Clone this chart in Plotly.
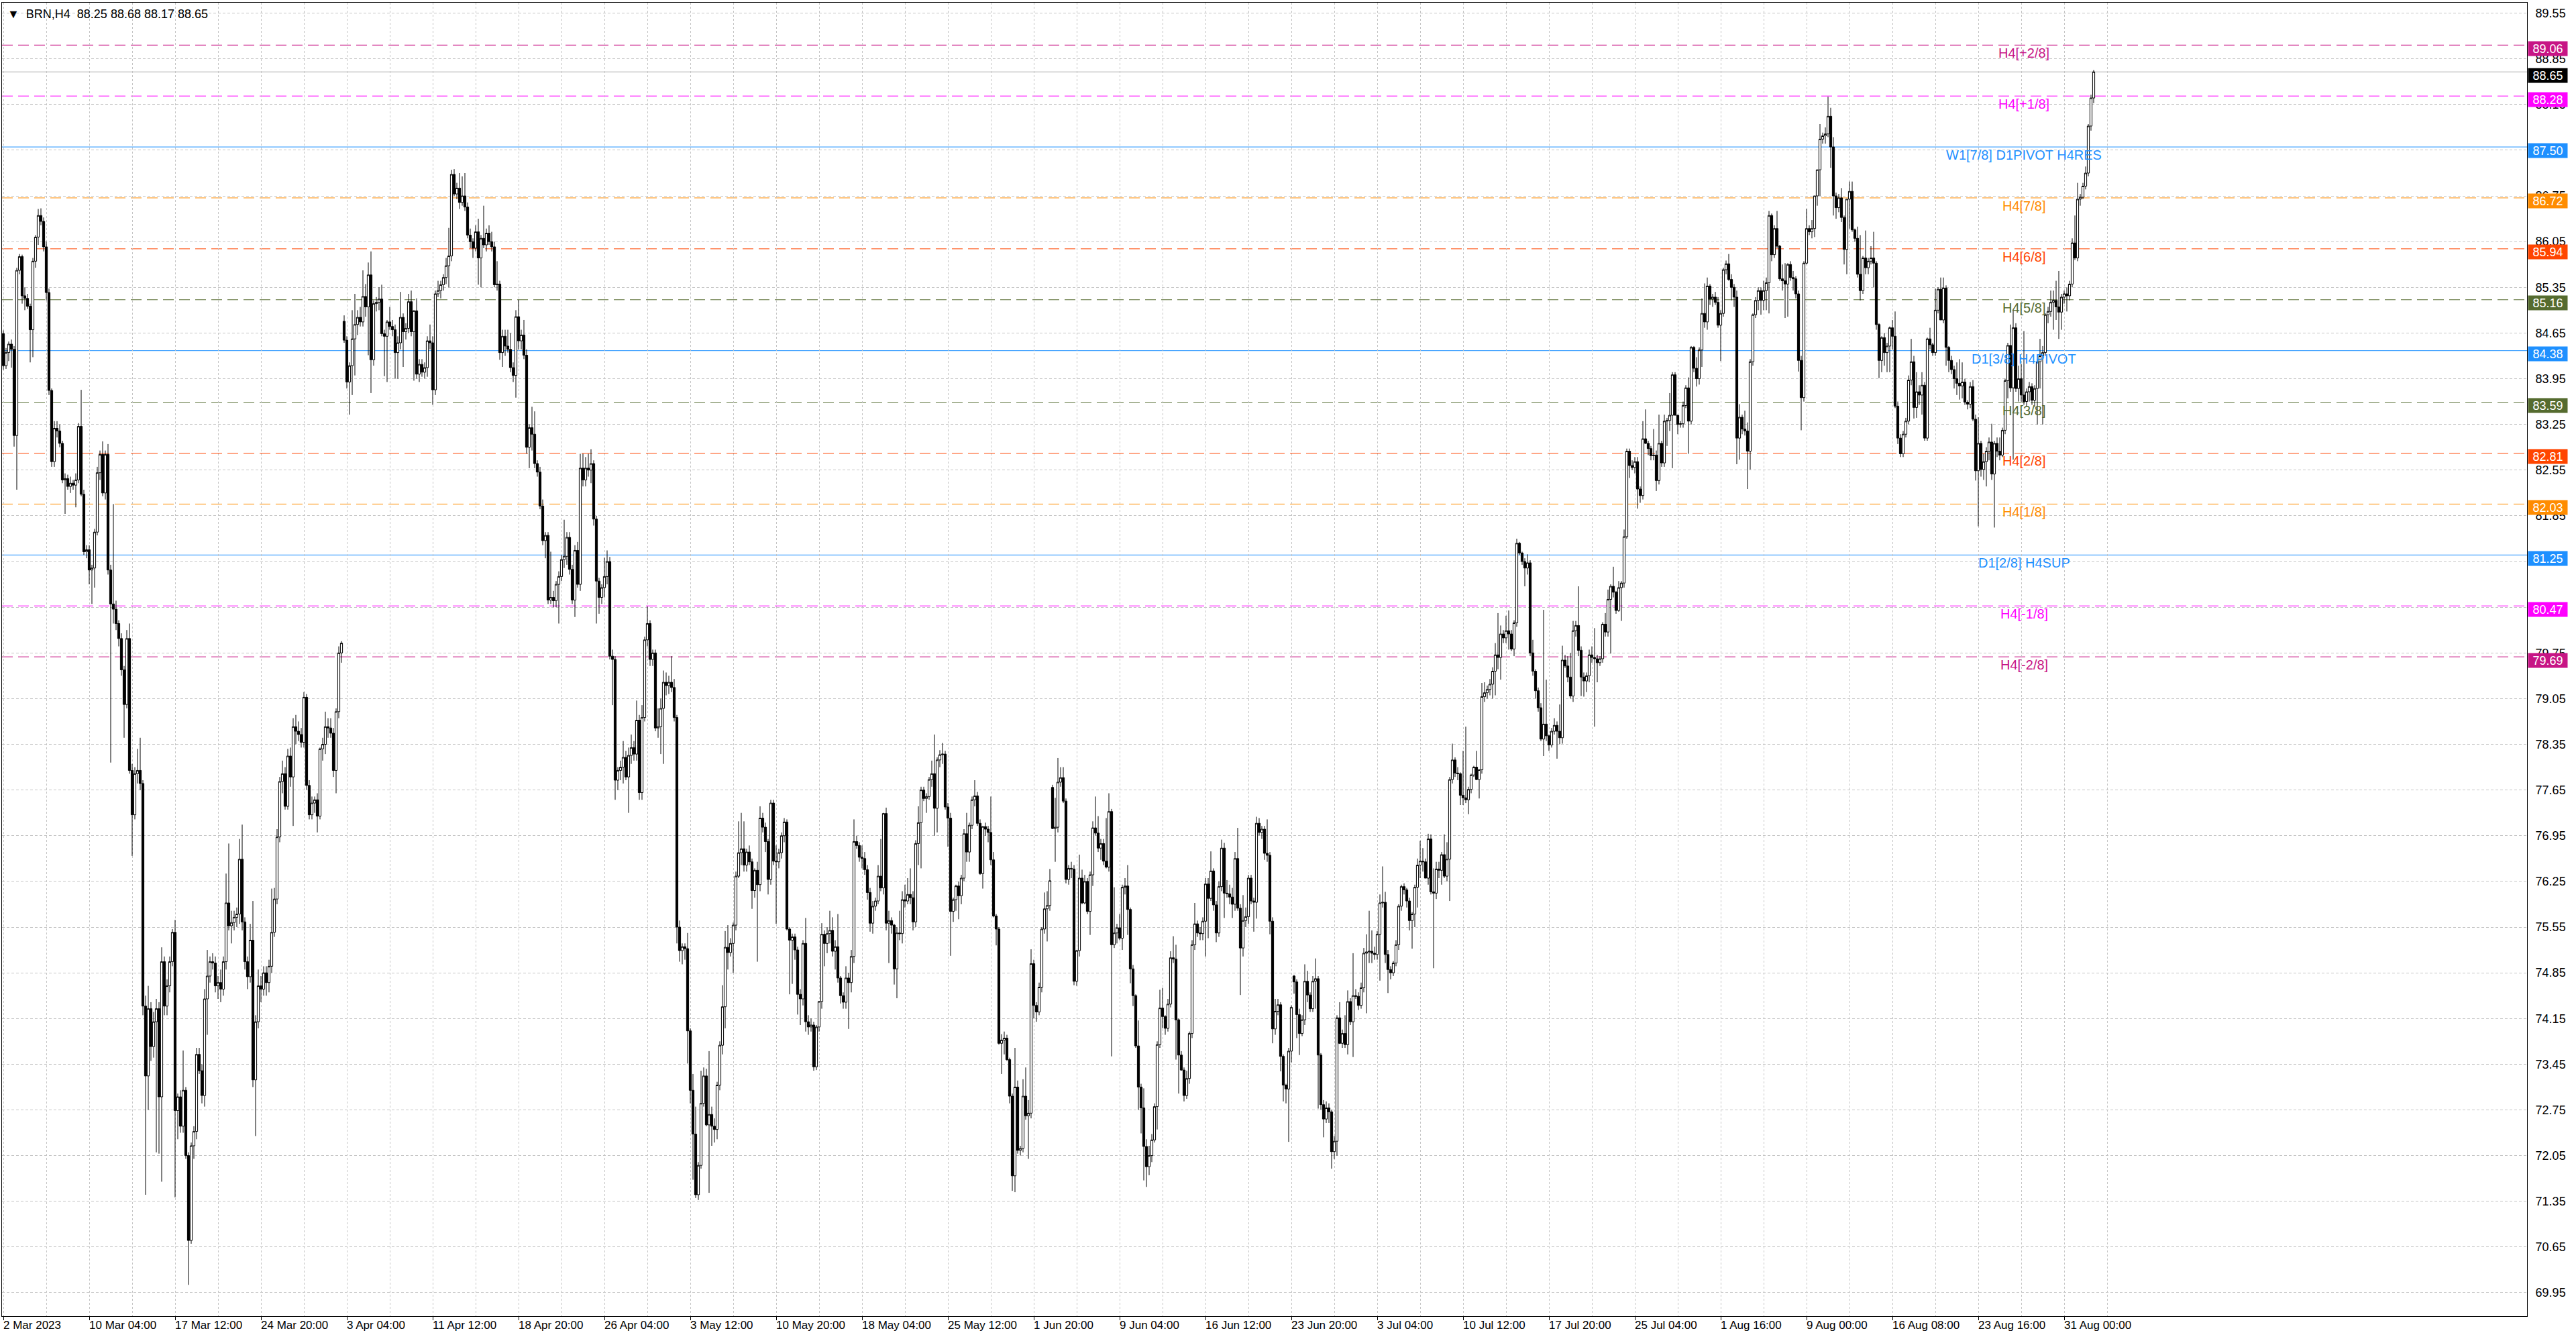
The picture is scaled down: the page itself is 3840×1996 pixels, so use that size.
import plotly.graph_objects as go

# BRN H4 bars, 2 Mar 2023 -> 1 Sep 2023
opens = [
    84.64, 84.15, 84.35, 84.48, 84.40, 83.08, 85.61, 85.82, 85.22, 85.18,
    85.06, 84.70, 85.75, 86.12, 86.45, 86.36, 85.97, 85.27, 83.77, 82.68,
    83.19, 83.15, 82.96, 82.40, 82.42, 82.30, 82.35, 82.32, 82.40, 83.22,
    82.18, 81.30, 81.33, 81.02, 81.05, 81.60, 82.51, 82.79, 82.20, 82.79,
    81.02, 80.50, 80.42, 80.20, 79.97, 79.49, 78.96, 79.97, 77.95, 77.27,
    77.90, 77.95, 77.75, 74.34, 73.27, 74.30, 73.72, 74.10, 74.30, 72.95,
    75.02, 74.34, 74.65, 75.02, 75.47, 72.74, 72.95, 72.50, 73.05, 72.05,
    70.75, 72.20, 72.42, 73.60, 73.35, 72.97, 74.45, 74.80, 75.02, 75.00,
    74.65, 74.70, 74.60, 75.02, 75.92, 75.57, 75.62, 75.70, 75.75, 76.59,
    75.63, 75.02, 74.79, 75.35, 73.21, 74.10, 74.65, 74.60, 74.85, 74.70,
    74.95, 75.47, 75.98, 76.93, 77.78, 77.90, 77.40, 78.17, 77.85, 78.62,
    78.55, 78.50, 78.38, 79.07, 77.72, 77.27, 77.45, 77.50, 77.25, 78.28,
    78.35, 78.62, 78.60, 78.52, 77.95, 78.85, 79.75,
    84.83, 84.54, 83.90, 84.15, 84.56, 84.78, 84.89, 84.82, 85.21, 85.05,
    85.54, 84.24, 85.10, 85.12, 85.17, 84.64, 84.60, 84.82, 84.75, 84.70,
    84.35, 84.50, 84.89, 84.67, 84.72, 85.13, 84.67, 84.99, 84.02, 84.17,
    84.05, 84.12, 84.53, 84.50, 83.78, 85.25, 85.30, 85.39, 85.50, 85.68,
    85.83, 87.08, 86.78, 86.87, 86.65, 86.75, 86.58, 86.15, 86.05, 85.95,
    86.20, 85.80, 86.10, 86.00, 86.18, 86.05, 85.97, 85.39, 85.40, 84.35,
    84.60, 84.45, 84.40, 84.12, 84.00, 84.90, 84.53, 84.62, 84.31, 82.90,
    83.20, 83.10, 82.65, 82.52, 82.00, 81.47, 81.55, 80.56, 80.60, 80.55,
    80.80, 80.92, 81.18, 81.23, 81.52, 81.03, 80.56, 81.32, 80.80, 82.58,
    82.40, 82.58, 82.55, 82.65, 81.80, 80.85, 80.60, 80.75, 80.92, 81.15,
    79.70, 79.65, 77.80, 77.95, 78.00, 78.15, 77.85, 78.18, 78.30, 78.20,
    78.72, 77.61, 78.76, 79.95, 80.20, 79.65, 79.75, 78.60, 78.62, 78.90,
    79.30, 79.25, 79.30, 79.22,
    78.76, 75.55, 75.19, 75.25, 75.22, 73.96, 73.05, 72.38, 71.45, 71.90,
    72.85, 73.27, 72.52, 72.68, 72.50, 72.45, 73.13, 73.74, 74.33, 75.24,
    75.16, 75.30, 75.58, 76.33, 76.69, 76.75, 76.50, 76.70, 76.55, 76.11,
    76.42, 76.20, 77.22, 77.08, 76.86, 76.28, 77.45, 76.56, 76.55, 76.69,
    76.95, 77.16, 75.52, 75.35, 75.40, 75.20, 74.52, 74.45, 75.30, 74.10,
    74.02, 74.05, 73.41, 74.02, 74.41, 75.44, 75.30, 75.45, 75.50, 75.18,
    75.25, 74.77, 74.50, 74.40, 74.77, 74.70, 75.10, 76.86, 76.80, 76.62,
    76.60, 76.43, 76.08, 75.61, 75.87, 75.95, 76.33, 76.15, 77.29, 75.61,
    75.65, 75.58, 74.91, 75.46, 75.45, 75.97, 75.95, 76.05, 76.00, 75.63,
    76.83, 77.15, 77.65, 77.52, 77.55, 77.81, 77.90, 77.37, 78.11, 78.19,
    78.20, 77.39, 77.22, 75.79, 75.97, 76.18, 76.03, 76.30, 76.98, 76.70,
    77.11, 77.50, 77.56, 77.14, 76.37, 77.09, 77.05, 77.00, 76.58, 75.72,
    75.52, 73.77, 73.82, 73.85, 73.52, 72.96, 71.74, 73.10, 72.13, 72.16,
    72.96, 72.66, 72.70, 74.99, 74.35, 74.25, 74.63, 75.52, 75.83, 75.88,
    77.69, 77.06, 77.08, 77.77, 77.84, 77.48, 76.28, 76.45, 76.44, 74.72, 75.19,
    76.30, 75.92, 76.25, 75.79, 76.35, 77.07, 76.99, 76.76, 76.83, 76.56,
    76.47, 77.32, 75.28, 75.46, 75.54, 75.38, 76.16, 76.18, 75.82, 74.91,
    74.50, 73.73, 73.10, 72.78, 72.19, 71.88, 72.05, 72.29, 72.80, 73.75,
    74.31, 74.18, 74.00, 74.37, 75.08, 75.06, 74.13, 73.59, 73.36, 72.97,
    73.23, 73.92, 75.28, 75.60, 75.46, 75.45, 75.64, 76.21, 75.99, 76.41,
    75.89, 75.46, 76.17, 76.76, 76.07, 76.06, 76.01, 75.90, 76.60, 75.84,
    75.23, 75.65, 75.71, 76.30, 75.95, 75.93, 77.14, 77.00, 77.05, 76.68,
    76.65, 75.64, 73.99, 74.26, 74.36, 73.57, 73.13, 73.07, 73.65, 74.80,
    74.71, 74.21, 73.92, 74.13, 74.72, 74.51, 74.30, 74.72, 74.76, 73.59,
    72.83, 72.61, 72.78, 72.72, 72.11, 72.27, 74.16, 73.77, 73.92, 73.75,
    74.41, 74.10, 74.50, 74.49, 74.35, 74.62, 75.15, 75.17, 75.18, 75.15,
    75.13, 75.44, 75.92, 75.93, 75.13, 74.90, 74.85, 75.00, 75.28, 75.87,
    76.17, 76.12, 75.95, 75.65, 75.75, 76.16, 76.50, 76.56, 76.55, 76.30,
    76.90, 76.09,
    76.07, 76.44, 76.42, 76.66, 76.33, 76.59, 77.81, 78.11, 77.91, 77.90,
    77.57, 77.53, 77.50, 77.66, 77.88, 78.00, 77.81, 77.96, 79.08, 79.14,
    79.19, 79.27, 79.47, 79.72, 79.68, 80.04, 79.98, 80.09, 80.04, 79.81,
    80.21, 81.43, 81.28, 81.15, 81.05, 81.13, 79.75, 79.47, 79.17, 78.91,
    78.43, 78.66, 78.48, 78.34, 78.55, 78.64, 78.55, 78.45, 79.64, 79.55,
    79.38, 79.09, 80.09, 80.17, 79.79, 79.38, 79.32, 79.40, 79.72, 79.68,
    79.66, 79.60, 79.66, 80.19, 80.07, 80.57, 80.77, 80.68, 80.40, 80.75,
    80.82, 81.53, 82.84, 82.62, 82.59, 82.68, 82.26, 82.16, 83.03, 82.96,
    82.88, 82.77, 82.78, 82.39, 82.96, 82.66, 83.30, 83.31, 83.39, 84.01,
    83.39, 83.25, 83.26, 83.54, 83.81, 83.30, 84.43, 84.11, 83.95, 84.39,
    84.95, 84.82, 85.37, 85.17, 85.20, 85.12, 84.77, 84.95, 85.62, 85.71,
    85.47, 85.35, 85.20, 83.04, 83.36, 83.18, 83.15, 82.84, 84.21, 84.93,
    85.15, 85.30, 85.15, 85.30, 85.42, 86.45, 85.85, 86.25, 85.98, 85.48,
    85.45, 85.40, 85.70, 85.50, 85.48, 85.25, 84.23, 83.66, 85.72, 86.25,
    86.20, 86.25, 86.75, 87.15, 87.62, 87.67, 87.70, 87.97, 87.50, 86.75,
    86.57, 86.72, 86.42, 85.93, 86.70, 86.82, 86.23, 86.10, 85.55, 85.30,
    85.80, 85.65, 85.75, 85.80, 85.72, 84.78, 84.23, 84.58, 84.35, 84.45,
    84.73, 84.60, 83.53, 83.04, 82.80, 83.10, 83.30, 83.93, 84.21, 83.51,
    83.75, 83.70, 83.85, 83.04, 84.56, 84.47, 84.35, 85.00, 85.32, 84.85,
    85.34, 84.43, 84.23, 84.09, 83.95, 83.88, 83.84, 83.90, 83.59, 83.56,
    83.83, 83.33, 82.54, 82.96, 82.56, 82.68, 82.84, 82.98, 82.49, 82.96,
    82.84, 82.78, 83.16, 83.92, 84.46, 83.81, 84.73, 83.80, 83.95, 83.70,
    83.60, 83.75, 83.83, 83.62, 83.80, 84.21, 84.30, 84.35, 84.93, 84.98,
    85.12, 85.15, 85.05, 84.97, 85.20, 85.25, 85.22, 85.40, 86.03, 85.80,
    86.70, 86.73, 86.90, 87.10, 87.82, 88.25,
]

highs = [
    84.69, 84.42, 84.52, 84.55, 84.45, 85.65, 85.86, 85.85, 85.35, 85.25,
    85.10, 85.80, 86.15, 86.55, 86.56, 86.42, 86.05, 85.33, 83.80, 83.30,
    83.30, 83.25, 83.00, 82.50, 82.48, 82.45, 82.40, 82.50, 83.27, 83.78,
    82.25, 81.40, 81.40, 81.10, 81.65, 82.60, 82.85, 82.99, 82.85, 82.95,
    81.10, 82.03, 80.55, 80.25, 80.05, 79.55, 80.10, 80.20, 78.05, 78.00,
    78.28, 78.45, 77.80, 74.50, 74.65, 74.40, 74.25, 74.45, 74.40, 75.24,
    75.10, 74.75, 75.10, 75.52, 75.66, 73.00, 73.05, 73.66, 73.10, 72.10,
    72.25, 72.50, 73.70, 73.70, 73.45, 74.60, 75.20, 75.10, 75.15, 75.10,
    74.80, 74.90, 75.10, 76.37, 76.83, 75.80, 75.80, 75.85, 76.90, 77.12,
    75.70, 75.10, 75.60, 75.95, 74.20, 74.90, 74.80, 74.95, 74.95, 75.05,
    76.14, 76.15, 77.05, 77.85, 78.10, 78.00, 78.28, 78.30, 78.75, 78.80,
    78.70, 78.60, 79.15, 79.12, 77.80, 77.55, 77.55, 77.60, 78.30, 78.45,
    78.85, 78.75, 78.75, 78.60, 78.90, 79.85, 79.93,
    84.92, 84.60, 84.20, 85.00, 85.25, 85.00, 85.05, 85.61, 85.40, 85.73,
    85.90, 85.15, 85.20, 85.35, 85.39, 84.70, 84.85, 85.05, 84.85, 84.78,
    84.60, 85.28, 84.95, 84.80, 85.25, 85.30, 85.00, 85.18, 84.25, 84.25,
    84.20, 84.60, 84.78, 84.60, 85.30, 85.45, 85.45, 85.55, 85.80, 86.26,
    87.15, 87.16, 86.95, 87.10, 87.05, 87.10, 86.65, 86.25, 86.10, 86.30,
    86.40, 86.15, 86.60, 86.25, 86.30, 86.20, 86.05, 85.75, 85.45, 84.70,
    84.70, 84.70, 84.65, 84.20, 85.00, 85.16, 84.70, 84.85, 84.40, 83.25,
    83.52, 83.45, 82.70, 82.60, 82.10, 81.60, 81.60, 81.30, 80.70, 80.85,
    81.00, 81.25, 81.79, 81.60, 81.60, 81.10, 81.40, 81.45, 82.80, 82.80,
    82.75, 82.80, 82.87, 82.70, 81.85, 80.90, 80.80, 81.21, 81.32, 81.22,
    79.80, 79.70, 78.00, 78.10, 78.40, 78.25, 78.30, 78.50, 78.40, 79.02,
    78.80, 78.95, 80.00, 80.46, 80.25, 79.80, 79.80, 78.90, 79.05, 79.48,
    79.45, 79.40, 79.70, 79.35,
    78.80, 75.65, 75.30, 75.30, 75.46, 74.00, 73.30, 72.80, 71.95, 73.35,
    73.40, 73.38, 73.65, 72.80, 72.62, 73.18, 73.80, 74.66, 75.49, 75.58,
    75.38, 75.62, 76.40, 77.17, 77.30, 77.17, 76.75, 76.80, 76.60, 76.45,
    76.55, 77.40, 77.30, 77.15, 76.90, 77.50, 77.50, 76.80, 76.75, 77.00,
    77.22, 77.20, 75.55, 75.45, 75.45, 75.25, 74.60, 75.35, 75.69, 74.20,
    74.15, 74.10, 74.05, 74.42, 75.61, 75.50, 75.55, 75.80, 75.70, 75.35,
    75.75, 74.80, 74.55, 74.95, 74.85, 75.20, 77.20, 76.95, 76.85, 76.80,
    76.70, 76.50, 76.15, 75.95, 76.00, 76.50, 76.90, 77.30, 77.38, 75.80,
    75.70, 75.60, 75.55, 75.80, 76.10, 76.20, 76.30, 76.45, 76.10, 76.88,
    77.40, 77.70, 77.70, 77.60, 77.85, 78.10, 78.50, 78.15, 78.26, 78.37,
    78.25, 77.45, 77.30, 76.00, 76.20, 76.25, 76.35, 77.05, 77.30, 77.15,
    77.55, 77.80, 77.62, 77.20, 77.10, 77.15, 77.10, 77.55, 76.70, 75.75,
    75.55, 73.91, 73.95, 73.90, 73.55, 73.00, 73.70, 73.20, 72.20, 73.22,
    73.40, 72.90, 75.21, 75.05, 74.40, 74.70, 75.55, 76.08, 76.10, 76.44,
    77.73, 77.53, 78.14, 78.00, 78.00, 77.52, 76.50, 76.55, 76.50, 75.20, 76.66,
    76.43, 76.35, 76.30, 76.40, 77.17, 77.55, 77.25, 76.90, 76.90, 77.22,
    77.60, 77.36, 76.16, 75.60, 75.75, 76.20, 76.30, 76.50, 75.85, 74.97,
    74.52, 74.12, 73.15, 73.08, 72.30, 72.20, 72.38, 72.85, 73.80, 74.59,
    74.62, 74.20, 74.45, 75.18, 75.41, 75.28, 74.15, 73.65, 73.40, 73.35,
    73.95, 75.35, 75.92, 75.65, 75.55, 75.70, 76.30, 76.30, 76.71, 76.45,
    75.95, 76.25, 76.89, 76.84, 76.27, 76.20, 76.15, 76.70, 77.07, 75.90,
    76.04, 75.85, 76.35, 76.35, 76.00, 77.24, 77.22, 77.10, 77.10, 77.20,
    76.70, 75.70, 74.45, 74.45, 74.40, 73.60, 73.15, 73.70, 74.35, 74.82,
    74.75, 74.30, 74.20, 74.98, 74.88, 74.55, 74.80, 75.07, 74.80, 73.62,
    72.90, 72.88, 72.85, 72.75, 72.35, 74.20, 74.40, 73.98, 74.20, 74.58,
    74.46, 75.15, 74.60, 74.55, 74.70, 75.23, 75.44, 75.80, 75.50, 75.25,
    75.49, 76.05, 76.48, 76.09, 75.20, 74.95, 75.03, 75.35, 75.90, 76.20,
    76.22, 76.15, 76.00, 75.78, 76.20, 76.60, 76.87, 76.76, 76.60, 76.98,
    76.97, 76.45,
    76.55, 76.55, 76.70, 76.97, 76.85, 77.85, 78.36, 78.15, 78.00, 77.92,
    78.25, 78.62, 77.70, 77.90, 78.02, 78.25, 77.95, 79.29, 79.30, 79.25,
    79.35, 79.53, 79.90, 80.36, 80.17, 80.10, 80.32, 80.40, 80.10, 80.25,
    81.50, 81.45, 81.30, 81.20, 81.26, 81.17, 79.95, 79.50, 79.22, 78.98,
    80.41, 79.34, 78.50, 78.60, 78.75, 78.70, 78.96, 79.86, 79.72, 79.70,
    79.75, 80.24, 80.24, 80.77, 79.85, 79.45, 79.45, 79.80, 79.85, 80.13,
    79.72, 79.70, 80.22, 80.36, 80.72, 80.80, 81.07, 80.70, 80.85, 80.85,
    81.64, 82.88, 82.88, 82.70, 82.75, 82.75, 82.30, 83.30, 83.48, 83.00,
    82.92, 83.18, 82.85, 83.40, 83.00, 83.40, 83.35, 83.73, 84.05, 84.05,
    83.40, 83.30, 83.60, 83.85, 83.97, 84.45, 84.45, 84.28, 84.43, 85.18,
    85.41, 85.50, 85.40, 85.25, 85.28, 85.20, 85.00, 85.65, 85.76, 85.86,
    85.55, 85.40, 85.30, 83.56, 83.40, 83.46, 83.28, 84.25, 84.95, 85.20,
    85.35, 85.35, 85.45, 85.50, 86.52, 86.48, 86.30, 86.52, 86.00, 85.70,
    85.72, 85.72, 85.75, 85.60, 85.52, 85.30, 84.30, 85.75, 86.55, 86.30,
    86.38, 86.75, 87.15, 87.85, 87.72, 87.80, 88.27, 88.10, 87.65, 86.80,
    86.78, 86.87, 86.45, 86.70, 86.97, 86.97, 86.25, 86.28, 86.15, 85.83,
    86.22, 85.80, 85.98, 86.20, 85.75, 84.80, 84.60, 84.65, 84.50, 84.75,
    84.85, 84.98, 83.60, 83.10, 83.15, 83.35, 84.00, 84.56, 84.30, 84.05,
    83.85, 84.05, 83.90, 84.58, 84.73, 84.50, 85.33, 85.35, 85.50, 85.50,
    85.38, 84.45, 84.30, 84.15, 84.20, 84.25, 84.20, 83.95, 83.62, 83.90,
    83.93, 83.40, 83.36, 83.00, 82.80, 82.90, 83.05, 83.26, 83.00, 83.05,
    83.05, 83.20, 83.95, 84.50, 84.78, 85.00, 84.80, 84.15, 84.18, 84.68,
    83.80, 83.90, 83.88, 83.85, 84.25, 84.56, 84.45, 84.95, 85.05, 85.30,
    85.30, 85.45, 85.60, 85.25, 85.30, 85.35, 85.45, 86.10, 86.45, 86.95,
    86.78, 86.95, 87.20, 87.85, 88.30, 88.68,
]

lows = [
    84.09, 84.10, 84.22, 84.12, 82.91, 82.25, 85.55, 85.10, 85.00, 85.02,
    84.20, 84.28, 85.65, 86.00, 86.30, 85.90, 85.15, 83.70, 82.60, 82.60,
    83.05, 82.90, 82.35, 81.88, 82.25, 82.20, 82.25, 81.98, 82.35, 82.15,
    81.25, 81.20, 80.80, 80.50, 80.75, 81.55, 82.40, 82.15, 82.10, 80.95,
    78.07, 80.20, 80.10, 79.85, 79.40, 78.45, 78.90, 77.90, 76.64, 77.20,
    77.75, 77.65, 74.20, 71.45, 72.75, 73.50, 73.55, 72.10, 72.08, 71.65,
    74.20, 74.20, 74.55, 74.95, 71.41, 72.30, 72.40, 72.40, 72.00, 70.07,
    70.70, 72.00, 72.30, 73.30, 72.85, 72.80, 73.90, 74.70, 74.90, 74.55,
    74.45, 74.40, 74.50, 74.90, 75.50, 75.30, 75.50, 75.55, 75.60, 75.50,
    74.90, 74.60, 74.70, 73.10, 72.35, 74.00, 74.40, 74.50, 74.50, 74.55,
    74.85, 75.40, 75.90, 76.85, 77.60, 77.35, 77.35, 77.70, 77.10, 78.35,
    78.40, 78.30, 78.30, 77.65, 77.20, 77.20, 77.30, 77.00, 77.20, 78.10,
    78.20, 78.45, 78.45, 77.85, 77.60, 78.75, 79.60,
    84.50, 83.80, 83.40, 83.70, 84.00, 84.62, 84.75, 84.75, 84.90, 84.31,
    83.73, 84.15, 84.98, 85.00, 84.60, 83.99, 83.90, 84.70, 84.60, 83.95,
    83.95, 84.40, 84.13, 84.55, 84.65, 84.60, 83.92, 83.95, 83.90, 83.98,
    83.95, 83.98, 84.40, 83.55, 83.70, 85.20, 85.18, 85.30, 85.40, 85.35,
    85.75, 86.75, 86.70, 86.55, 86.60, 86.52, 86.10, 85.95, 85.80, 85.90,
    85.39, 85.35, 85.95, 85.90, 86.00, 85.90, 85.35, 85.30, 84.24, 84.13,
    84.30, 84.35, 84.05, 83.90, 83.66, 84.40, 84.40, 84.25, 82.80, 82.58,
    82.85, 82.58, 82.45, 81.95, 81.40, 81.20, 80.50, 80.50, 80.45, 80.45,
    80.20, 80.85, 81.05, 81.10, 80.95, 80.50, 80.30, 80.75, 80.70, 82.30,
    82.30, 82.45, 82.35, 81.70, 80.20, 80.35, 80.50, 80.60, 80.80, 79.65,
    78.95, 77.50, 77.65, 77.80, 77.75, 77.80, 77.30, 78.05, 78.10, 78.10,
    77.50, 77.50, 78.70, 79.85, 79.55, 79.55, 78.55, 78.45, 78.20, 78.05,
    79.10, 79.12, 79.15, 78.70,
    75.30, 75.02, 74.98, 75.05, 73.46, 72.85, 71.68, 71.40, 71.37, 71.85,
    72.80, 72.50, 71.48, 72.20, 72.25, 72.30, 73.05, 73.60, 74.00, 74.90,
    75.10, 74.85, 75.50, 76.30, 76.50, 76.40, 76.40, 76.50, 75.83, 76.00,
    75.02, 76.10, 77.00, 76.70, 76.05, 76.20, 76.50, 75.60, 76.45, 76.60,
    76.85, 75.50, 74.52, 74.68, 75.05, 74.21, 74.05, 74.35, 73.95, 73.90,
    73.95, 73.35, 73.36, 73.95, 74.30, 74.95, 75.15, 75.30, 75.10, 74.90,
    74.70, 74.38, 74.30, 74.30, 73.99, 74.55, 75.00, 76.75, 76.55, 76.45,
    76.35, 75.97, 75.48, 75.45, 75.80, 75.90, 76.10, 76.05, 75.50, 75.00,
    75.45, 74.67, 74.46, 75.35, 75.30, 75.85, 75.90, 75.90, 75.50, 75.55,
    76.50, 76.45, 77.48, 77.30, 77.50, 77.70, 76.95, 77.00, 78.00, 78.05,
    77.35, 76.78, 75.11, 75.63, 75.80, 75.67, 75.90, 76.25, 76.55, 76.55,
    77.05, 77.40, 77.10, 76.35, 76.14, 76.95, 76.85, 76.50, 75.70, 75.27,
    73.75, 73.30, 73.60, 73.50, 72.85, 71.51, 71.49, 72.08, 72.05, 72.10,
    72.60, 72.00, 72.62, 74.15, 74.10, 74.20, 74.55, 75.45, 75.33, 75.80,
    77.05, 76.55, 77.00, 77.70, 77.45, 76.22, 76.20, 76.30, 74.66, 74.65, 75.10,
    75.90, 75.90, 75.75, 75.43, 76.18, 76.95, 76.70, 76.58, 76.50, 76.45,
    76.40, 73.57, 75.23, 75.30, 75.35, 75.20, 76.05, 75.43, 74.69, 74.34,
    73.70, 72.75, 72.39, 71.67, 71.57, 71.75, 71.95, 72.25, 72.45, 73.70,
    74.00, 73.90, 73.95, 74.32, 75.00, 73.52, 73.00, 73.35, 72.88, 72.92,
    73.15, 73.85, 75.20, 75.40, 75.35, 75.35, 75.10, 75.38, 75.95, 75.80,
    75.32, 75.40, 76.10, 75.69, 76.00, 75.90, 75.69, 75.80, 75.80, 74.51,
    75.10, 75.55, 75.60, 75.90, 75.48, 75.68, 76.95, 76.90, 76.58, 76.55,
    75.44, 73.77, 73.90, 74.20, 73.34, 72.88, 72.85, 72.26, 73.48, 74.53,
    73.85, 73.59, 73.88, 74.05, 74.40, 74.25, 74.25, 74.30, 72.77, 72.75,
    72.33, 72.55, 72.55, 71.85, 72.00, 72.05, 73.76, 73.70, 73.70, 73.60,
    74.05, 73.56, 74.45, 74.28, 74.30, 74.55, 74.23, 75.00, 75.00, 75.05,
    75.05, 74.73, 75.85, 75.00, 74.54, 74.75, 74.80, 74.95, 75.20, 75.80,
    76.05, 75.85, 75.50, 75.22, 75.55, 75.85, 76.30, 76.40, 76.30, 76.20,
    76.05, 74.92,
    75.98, 76.30, 76.20, 76.30, 76.25, 75.95, 77.75, 77.85, 77.80, 77.42,
    77.42, 77.45, 77.28, 77.60, 77.85, 77.80, 77.52, 77.90, 79.00, 79.05,
    79.10, 79.05, 79.10, 79.50, 79.34, 79.90, 79.90, 79.80, 79.78, 79.70,
    80.15, 81.25, 81.10, 80.77, 80.95, 79.70, 79.40, 79.05, 78.85, 78.40,
    78.17, 78.40, 78.25, 78.30, 78.50, 78.13, 78.35, 78.36, 79.52, 79.30,
    79.05, 79.00, 80.00, 79.70, 79.09, 79.08, 79.15, 79.30, 79.60, 78.62,
    79.30, 79.55, 79.60, 80.00, 80.00, 79.74, 80.60, 80.35, 80.38, 80.24,
    80.75, 81.50, 82.43, 82.55, 82.50, 81.96, 82.05, 82.10, 82.95, 82.78,
    82.70, 82.70, 82.23, 82.33, 82.60, 82.60, 82.92, 83.15, 82.58, 83.39,
    83.10, 83.20, 83.20, 83.50, 82.80, 83.25, 84.05, 83.83, 83.86, 84.13,
    84.73, 84.70, 85.08, 85.05, 85.08, 84.73, 84.22, 84.90, 85.55, 85.45,
    85.15, 85.05, 82.64, 82.71, 83.10, 83.08, 82.26, 82.56, 84.15, 84.88,
    85.00, 84.93, 85.00, 85.00, 84.95, 85.75, 85.80, 85.95, 85.45, 85.30,
    84.88, 84.90, 85.45, 85.30, 85.18, 84.06, 83.16, 83.60, 85.70, 86.15,
    86.10, 86.12, 86.60, 86.75, 87.55, 87.55, 87.65, 87.18, 86.45, 86.40,
    86.50, 86.35, 85.70, 85.55, 86.25, 86.20, 86.05, 85.50, 85.15, 85.25,
    85.55, 85.55, 85.70, 85.35, 84.70, 83.96, 84.05, 84.15, 84.05, 84.05,
    84.40, 83.50, 82.95, 82.75, 82.75, 83.05, 83.25, 83.85, 83.34, 83.35,
    83.55, 83.40, 83.00, 83.00, 84.40, 84.30, 84.30, 84.95, 84.85, 84.80,
    84.15, 84.05, 84.02, 83.80, 83.70, 83.63, 83.65, 83.55, 83.48, 83.50,
    83.30, 82.39, 81.69, 82.45, 82.40, 82.30, 82.70, 82.40, 81.67, 82.75,
    82.70, 82.75, 83.10, 83.65, 83.75, 82.71, 83.75, 83.60, 83.60, 83.55,
    83.52, 83.60, 83.55, 83.52, 83.25, 83.80, 83.25, 84.30, 84.80, 84.90,
    84.70, 84.85, 84.56, 84.70, 85.10, 84.98, 85.15, 85.35, 85.77, 85.75,
    86.60, 86.70, 86.85, 87.05, 87.75, 88.17,
]

closes = [
    84.15, 84.35, 84.48, 84.40, 83.08, 85.61, 85.82, 85.22, 85.18, 85.06,
    84.70, 85.75, 86.12, 86.45, 86.36, 85.97, 85.27, 83.77, 82.68, 83.19,
    83.15, 82.96, 82.40, 82.42, 82.30, 82.35, 82.32, 82.40, 83.22, 82.18,
    81.30, 81.33, 81.02, 81.05, 81.60, 82.51, 82.79, 82.20, 82.79, 81.02,
    80.50, 80.42, 80.20, 79.97, 79.49, 78.96, 79.97, 77.95, 77.27, 77.90,
    77.95, 77.75, 74.34, 73.27, 74.30, 73.72, 74.10, 74.30, 72.95, 75.02,
    74.34, 74.65, 75.02, 75.47, 72.74, 72.95, 72.50, 73.05, 72.05, 70.75,
    72.20, 72.42, 73.60, 73.35, 72.97, 74.45, 74.80, 75.02, 75.00, 74.65,
    74.70, 74.60, 75.02, 75.92, 75.57, 75.62, 75.70, 75.75, 76.59, 75.63,
    75.02, 74.79, 75.35, 73.21, 74.10, 74.65, 74.60, 74.85, 74.70, 74.95,
    75.47, 75.98, 76.93, 77.78, 77.90, 77.40, 78.17, 77.85, 78.62, 78.55,
    78.50, 78.38, 79.07, 77.72, 77.27, 77.45, 77.50, 77.25, 78.28, 78.35,
    78.62, 78.60, 78.52, 77.95, 78.85, 79.75, 79.90,
    84.54, 83.90, 84.15, 84.56, 84.78, 84.89, 84.82, 85.21, 85.05, 85.54,
    84.24, 85.10, 85.12, 85.17, 84.64, 84.60, 84.82, 84.75, 84.70, 84.35,
    84.50, 84.89, 84.67, 84.72, 85.13, 84.67, 84.99, 84.02, 84.17, 84.05,
    84.12, 84.53, 84.50, 83.78, 85.25, 85.30, 85.39, 85.50, 85.68, 85.83,
    87.08, 86.78, 86.87, 86.65, 86.75, 86.58, 86.15, 86.05, 85.95, 86.20,
    85.80, 86.10, 86.00, 86.18, 86.05, 85.97, 85.39, 85.40, 84.35, 84.60,
    84.45, 84.40, 84.12, 84.00, 84.90, 84.53, 84.62, 84.31, 82.90, 83.20,
    83.10, 82.65, 82.52, 82.00, 81.47, 81.55, 80.56, 80.60, 80.55, 80.80,
    80.92, 81.18, 81.23, 81.52, 81.03, 80.56, 81.32, 80.80, 82.58, 82.40,
    82.58, 82.55, 82.65, 81.80, 80.85, 80.60, 80.75, 80.92, 81.15, 79.70,
    79.65, 77.80, 77.95, 78.00, 78.15, 77.85, 78.18, 78.30, 78.20, 78.72,
    77.61, 78.76, 79.95, 80.20, 79.65, 79.75, 78.60, 78.62, 78.90, 79.30,
    79.25, 79.30, 79.22, 78.76,
    75.55, 75.19, 75.25, 75.22, 73.96, 73.05, 72.38, 71.45, 71.90, 72.85,
    73.27, 72.52, 72.68, 72.50, 72.45, 73.13, 73.74, 74.33, 75.24, 75.16,
    75.30, 75.58, 76.33, 76.69, 76.75, 76.50, 76.70, 76.55, 76.11, 76.42,
    76.20, 77.22, 77.08, 76.86, 76.28, 77.45, 76.56, 76.55, 76.69, 76.95,
    77.16, 75.52, 75.35, 75.40, 75.20, 74.52, 74.45, 75.30, 74.10, 74.02,
    74.05, 73.41, 74.02, 74.41, 75.44, 75.30, 75.45, 75.50, 75.18, 75.25,
    74.77, 74.50, 74.40, 74.77, 74.70, 75.10, 76.86, 76.80, 76.62, 76.60,
    76.43, 76.08, 75.61, 75.87, 75.95, 76.33, 76.15, 77.29, 75.61, 75.65,
    75.58, 74.91, 75.46, 75.45, 75.97, 75.95, 76.05, 76.00, 75.63, 76.83,
    77.15, 77.65, 77.52, 77.55, 77.81, 77.90, 77.37, 78.11, 78.19, 78.20,
    77.39, 77.22, 75.79, 75.97, 76.18, 76.03, 76.30, 76.98, 76.70, 77.11,
    77.50, 77.56, 77.14, 76.37, 77.09, 77.05, 77.00, 76.58, 75.72, 75.52,
    73.77, 73.82, 73.85, 73.52, 72.96, 71.74, 73.10, 72.13, 72.16, 72.96,
    72.66, 72.70, 74.99, 74.35, 74.25, 74.63, 75.52, 75.83, 75.88, 76.26,
    77.06, 77.08, 77.77, 77.84, 77.48, 76.28, 76.45, 76.44, 74.72, 75.19, 76.30,
    75.92, 76.25, 75.79, 76.35, 77.07, 76.99, 76.76, 76.83, 76.56, 76.47,
    77.32, 75.28, 75.46, 75.54, 75.38, 76.16, 76.18, 75.82, 74.91, 74.50,
    73.73, 73.10, 72.78, 72.19, 71.88, 72.05, 72.29, 72.80, 73.75, 74.31,
    74.18, 74.00, 74.37, 75.08, 75.06, 74.13, 73.59, 73.36, 72.97, 73.23,
    73.92, 75.28, 75.60, 75.46, 75.45, 75.64, 76.21, 75.99, 76.41, 75.89,
    75.46, 76.17, 76.76, 76.07, 76.06, 76.01, 75.90, 76.60, 75.84, 75.23,
    75.65, 75.71, 76.30, 75.95, 75.93, 77.14, 77.00, 77.05, 76.68, 76.65,
    75.64, 73.99, 74.26, 74.36, 73.57, 73.13, 73.07, 73.65, 74.32, 74.71,
    74.21, 73.92, 74.13, 74.72, 74.51, 74.30, 74.72, 74.76, 73.59, 72.83,
    72.61, 72.78, 72.72, 72.11, 72.27, 74.16, 73.77, 73.92, 73.75, 74.41,
    74.10, 74.50, 74.49, 74.35, 74.62, 75.15, 75.17, 75.18, 75.15, 75.13,
    75.44, 75.92, 75.93, 75.13, 74.90, 74.85, 75.00, 75.28, 75.87, 76.17,
    76.12, 75.95, 75.65, 75.75, 76.16, 76.50, 76.56, 76.55, 76.30, 76.90,
    76.09, 76.07,
    76.44, 76.42, 76.66, 76.33, 76.59, 77.81, 78.11, 77.91, 77.90, 77.57,
    77.53, 77.50, 77.66, 77.88, 78.00, 77.81, 77.96, 79.08, 79.14, 79.19,
    79.27, 79.47, 79.72, 79.68, 80.04, 79.98, 80.09, 80.04, 79.81, 80.21,
    81.43, 81.28, 81.15, 81.05, 81.13, 79.75, 79.47, 79.17, 78.91, 78.43,
    78.66, 78.48, 78.34, 78.55, 78.64, 78.55, 78.45, 79.64, 79.55, 79.38,
    79.09, 80.09, 80.17, 79.79, 79.38, 79.32, 79.40, 79.72, 79.68, 79.66,
    79.60, 79.66, 80.19, 80.07, 80.57, 80.77, 80.68, 80.40, 80.75, 80.82,
    81.53, 82.84, 82.62, 82.59, 82.68, 82.26, 82.16, 83.03, 82.96, 82.88,
    82.77, 82.78, 82.39, 82.96, 82.66, 83.30, 83.31, 83.39, 84.01, 83.39,
    83.25, 83.26, 83.54, 83.81, 83.30, 84.43, 84.11, 83.95, 84.39, 84.95,
    84.82, 85.37, 85.17, 85.20, 85.12, 84.77, 84.95, 85.62, 85.71, 85.47,
    85.35, 85.20, 83.04, 83.36, 83.18, 83.15, 82.84, 84.21, 84.93, 85.15,
    85.30, 85.15, 85.30, 85.42, 86.45, 85.85, 86.25, 85.98, 85.48, 85.45,
    85.40, 85.70, 85.50, 85.48, 85.25, 84.23, 83.66, 85.72, 86.25, 86.20,
    86.25, 86.75, 87.15, 87.62, 87.67, 87.70, 87.97, 87.50, 86.75, 86.57,
    86.72, 86.42, 85.93, 86.70, 86.82, 86.23, 86.10, 85.55, 85.30, 85.80,
    85.65, 85.75, 85.80, 85.72, 84.78, 84.23, 84.58, 84.35, 84.45, 84.73,
    84.60, 83.53, 83.04, 82.80, 83.10, 83.30, 83.93, 84.21, 83.51, 83.75,
    83.70, 83.85, 83.04, 84.56, 84.47, 84.35, 85.00, 85.32, 84.85, 85.34,
    84.43, 84.23, 84.09, 83.95, 83.88, 83.84, 83.90, 83.59, 83.56, 83.83,
    83.33, 82.54, 82.96, 82.56, 82.68, 82.84, 82.98, 82.49, 82.96, 82.84,
    82.78, 83.16, 83.92, 84.46, 83.81, 84.73, 83.80, 83.95, 83.70, 83.60,
    83.75, 83.83, 83.62, 83.80, 84.21, 84.30, 84.35, 84.93, 84.98, 85.12,
    85.15, 85.05, 84.97, 85.20, 85.25, 85.22, 85.40, 86.03, 85.80, 86.70,
    86.73, 86.90, 87.10, 87.82, 88.25, 88.65,
]

date_labels = [
    "2 Mar 2023", "10 Mar 04:00", "17 Mar 12:00", "24 Mar 20:00", "3 Apr 04:00",
    "11 Apr 12:00", "18 Apr 20:00", "26 Apr 04:00", "3 May 12:00", "10 May 20:00",
    "18 May 04:00", "25 May 12:00", "1 Jun 20:00", "9 Jun 04:00", "16 Jun 12:00",
    "23 Jun 20:00", "3 Jul 04:00", "10 Jul 12:00", "17 Jul 20:00", "25 Jul 04:00",
    "1 Aug 16:00", "9 Aug 00:00", "16 Aug 08:00", "23 Aug 16:00", "31 Aug 00:00",
]

price_ticks = [
    69.95, 70.65, 71.35, 72.05, 72.75, 73.45, 74.15, 74.85, 75.55, 76.25,
    76.95, 77.65, 78.35, 79.05, 79.75, 80.45, 81.15, 81.85, 82.55, 83.25,
    83.95, 84.65, 85.35, 86.05, 86.75, 87.45, 88.15, 88.85, 89.55,
]

level_prices = [89.06, 88.28, 87.50, 86.72, 85.94, 85.16, 84.38, 83.59, 82.81, 82.03, 81.25, 80.47, 79.69]
level_names = [
    "H4[+2/8]", "H4[+1/8]", "W1[7/8] D1PIVOT H4RES", "H4[7/8]", "H4[6/8]", "H4[5/8]",
    "D1[3/8] H4PIVOT", "H4[3/8]", "H4[2/8]", "H4[1/8]", "D1[2/8] H4SUP", "H4[-1/8]", "H4[-2/8]",
]
level_colors = [
    "#C71585", "#FF00FF", "#1E90FF", "#FF8C00", "#FF4500", "#556B2F", "#1E90FF",
    "#556B2F", "#FF4500", "#FF8C00", "#1E90FF", "#FF00FF", "#C71585",
]

FONT = "Liberation Sans, Arial, sans-serif"
GRID = "#C4C4C4"

bars = list(range(len(closes)))

fig = go.Figure(go.Candlestick(
    x=bars, open=opens, high=highs, low=lows, close=closes,
    increasing=dict(line=dict(color="black", width=1), fillcolor="white"),
    decreasing=dict(line=dict(color="black", width=1), fillcolor="black"),
    whiskerwidth=0, hoverinfo="skip",
))

shapes = []
annotations = []

# murrey / pivot levels
for price, name, color in zip(level_prices, level_names, level_colors):
    solid = color == "#1E90FF"
    shapes.append(dict(type="line", xref="paper", x0=0, x1=1, yref="y", y0=price, y1=price,
                       line=dict(color=color, width=1, dash="solid" if solid else "16px,8px"),
                       layer="below"))
    annotations.append(dict(x=753, y=price, xref="x", yref="y", text=name, showarrow=False,
                            xanchor="center", yanchor="middle", yshift=-12,
                            font=dict(family=FONT, size=20, color=color)))
    annotations.append(dict(x=1, y=price, xref="paper", yref="y", text=f"{price:.2f}",
                            showarrow=False, xanchor="left", yanchor="middle", xshift=1, yshift=-5,
                            width=58, height=21, bgcolor=color, borderpad=0, align="center",
                            font=dict(family=FONT, size=18, color="white")))

# bid line + tag
last = closes[-1]
shapes.append(dict(type="line", xref="paper", x0=0, x1=1, yref="y", y0=last, y1=last,
                   line=dict(color="#B4B4B4", width=1), layer="below"))
annotations.append(dict(x=1, y=last, xref="paper", yref="y", text=f"{last:.2f}",
                        showarrow=False, xanchor="left", yanchor="middle", xshift=1, yshift=-5,
                        width=58, height=21, bgcolor="black", borderpad=0, align="center",
                        font=dict(family=FONT, size=18, color="white")))

# time labels, left-aligned at their bar like MT4
for k, lab in enumerate(date_labels):
    annotations.append(dict(x=32 * k, y=0, xref="x", yref="paper", text=lab, showarrow=False,
                            xanchor="left", yanchor="top", xshift=-2, yshift=-2,
                            font=dict(family=FONT, size=17, color="black")))

annotations.append(dict(x=0, y=1, xref="paper", yref="paper",
                        text="\u25BC  BRN,H4  88.25 88.68 88.17 88.65", showarrow=False,
                        xanchor="left", yanchor="top", xshift=6, yshift=-5,
                        font=dict(family=FONT, size=18, color="black")))

fig.update_layout(
    width=3840, height=1996,
    margin=dict(l=3, r=73, t=4, b=34),
    paper_bgcolor="white", plot_bgcolor="white",
    showlegend=False, shapes=shapes, annotations=annotations,
    boxgap=0.2, boxgroupgap=0,
    xaxis=dict(
        range=[-0.5, 940.5], rangeslider=dict(visible=False),
        tickmode="array", tickvals=[32 * k for k in range(len(date_labels))],
        showticklabels=False, ticks="outside", ticklen=5, tickcolor="black",
        showgrid=True, gridcolor=GRID, griddash="3px,3px", gridwidth=1,
        minor=dict(tickmode="array", tickvals=[16 + 32 * k for k in range(len(date_labels))],
                   showgrid=True, gridcolor=GRID, griddash="3px,3px", ticks=""),
        showline=True, linecolor="black", linewidth=1, mirror=True, zeroline=False,
        fixedrange=True,
    ),
    yaxis=dict(
        side="right", range=[69.59, 89.71],
        tickmode="array", tickvals=price_ticks, ticktext=[f"{v:.2f}" for v in price_ticks],
        ticks="", ticklabelstandoff=8,
        tickfont=dict(family=FONT, size=18, color="black"),
        showgrid=True, gridcolor=GRID, griddash="4px,3px", gridwidth=1,
        showline=True, linecolor="black", linewidth=1, mirror=True, zeroline=False,
        automargin=False, fixedrange=True,
    ),
)

fig.write_html("out.html", config={"displayModeBar": False},
               post_script="document.body.style.margin='0';document.body.style.overflow='hidden';")
